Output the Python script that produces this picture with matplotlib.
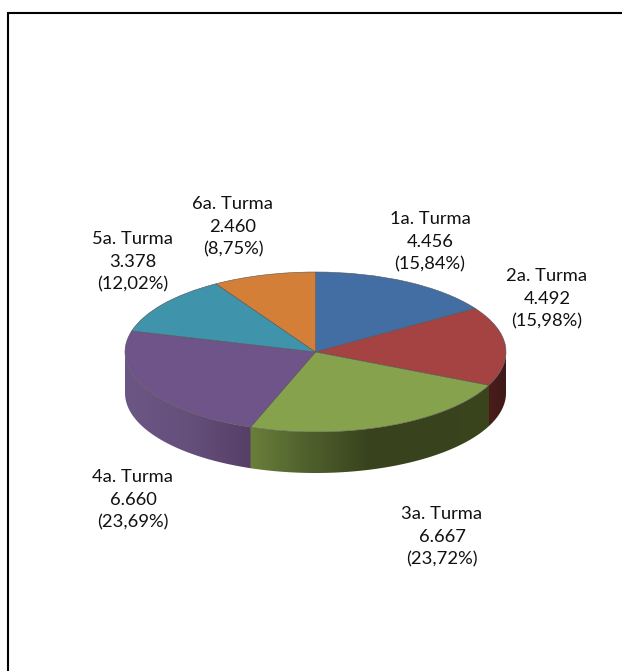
import numpy as np
import matplotlib
matplotlib.use('Agg')
import matplotlib.pyplot as plt
from matplotlib.colors import LinearSegmentedColormap
from matplotlib.patches import Polygon

# Data
turmas = ['1a. Turma', '2a. Turma', '3a. Turma', '4a. Turma', '5a. Turma', '6a. Turma']
alunos = [4456, 4492, 6667, 6660, 3378, 2460]
alunos_txt = ['4.456', '4.492', '6.667', '6.660', '3.378', '2.460']
percent_txt = ['(15,84%)', '(15,98%)', '(23,72%)', '(23,69%)', '(12,02%)', '(8,75%)']

# Styles
TOP_COLORS = ['#426ea3', '#a54242', '#86a24d', '#6f5489', '#3f93aa', '#d47f38']
WALL_COLORS = {1: ['#3f1a18', '#4a1d1b'],
               2: ['#6a7f3a', '#4e5f2c', '#38431d', '#38431d', '#3a451e'],
               3: ['#6b5685', '#65507c', '#563f66']}
LABEL_POS = [(430, 242), (547, 299), (442, 537), (133, 500), (133, 262), (233, 227)]
W, H = 622, 671
CX, CY, RX, RY, DEPTH = 315.5, 352, 190.5, 80, 41

plt.rcParams['font.family'] = ['Lato', 'DejaVu Sans']
fig = plt.figure(figsize=(W / 100, H / 100), dpi=100)

# Background axes in pixels: frame and labels
bg = fig.add_axes([0, 0, 1, 1])
bg.set_xlim(0, W)
bg.set_ylim(H, 0)
bg.axis('off')
bg.plot([8, 8, W + 5], [H + 5, 13, 13], color='black', lw=1.5, solid_joinstyle='miter')
for i in range(len(turmas)):
    x, y = LABEL_POS[i]
    bg.text(x, y, turmas[i] + '\n' + alunos_txt[i] + '\n' + percent_txt[i],
            ha='center', va='center', fontsize=13.2, color='#111111', linespacing=1.52)

# Pie axes stretched over the ellipse of the top face
ax = fig.add_axes([(CX - RX) / W, (H - CY - RY) / H, 2 * RX / W, 2 * RY / H])
ax.patch.set_alpha(0)
wedges, _ = ax.pie(alunos, colors=TOP_COLORS, startangle=90, counterclock=False, radius=1,
                   wedgeprops={'edgecolor': '#555555', 'linewidth': 0.4, 'zorder': 5})
for w in wedges:
    w.set_clip_on(False)

# Side wall of the visible front part
d = DEPTH / RY
edges = np.cumsum([0] + alunos) / sum(alunos) * 2 * np.pi
for i in WALL_COLORS:
    # small overlap so no white seam shows between the walls
    t0 = max(edges[i] - 0.006, np.pi / 2)
    t1 = min(edges[i + 1], 3 * np.pi / 2)
    t = np.linspace(t0, t1, 80)
    xs, ys = np.sin(t), np.cos(t)
    pts = np.vstack([np.column_stack([xs, ys]), np.column_stack([xs[::-1], ys[::-1] - d])])
    poly = Polygon(pts, closed=True, facecolor='none', edgecolor='none', transform=ax.transData)
    ax.add_patch(poly)
    poly.set_clip_on(False)
    cmap = LinearSegmentedColormap.from_list('wall%d' % i, WALL_COLORS[i])
    # gradient runs left to right; green and purple go dark toward the middle
    grad = np.linspace(0, 1, 256).reshape(1, -1)
    if i == 1:
        grad = grad[:, ::-1]
    im = ax.imshow(grad, cmap=cmap, aspect='auto', extent=[xs.min(), xs.max(), -1.7, 1], zorder=2 + (i == 2))
    im.set_clip_box(fig.bbox)
    im.set_clip_path(poly)

ax.set_aspect('auto')
ax.set_xlim(-1, 1)
ax.set_ylim(-1, 1)
ax.axis('off')

fig.savefig('out.png', dpi=100)
